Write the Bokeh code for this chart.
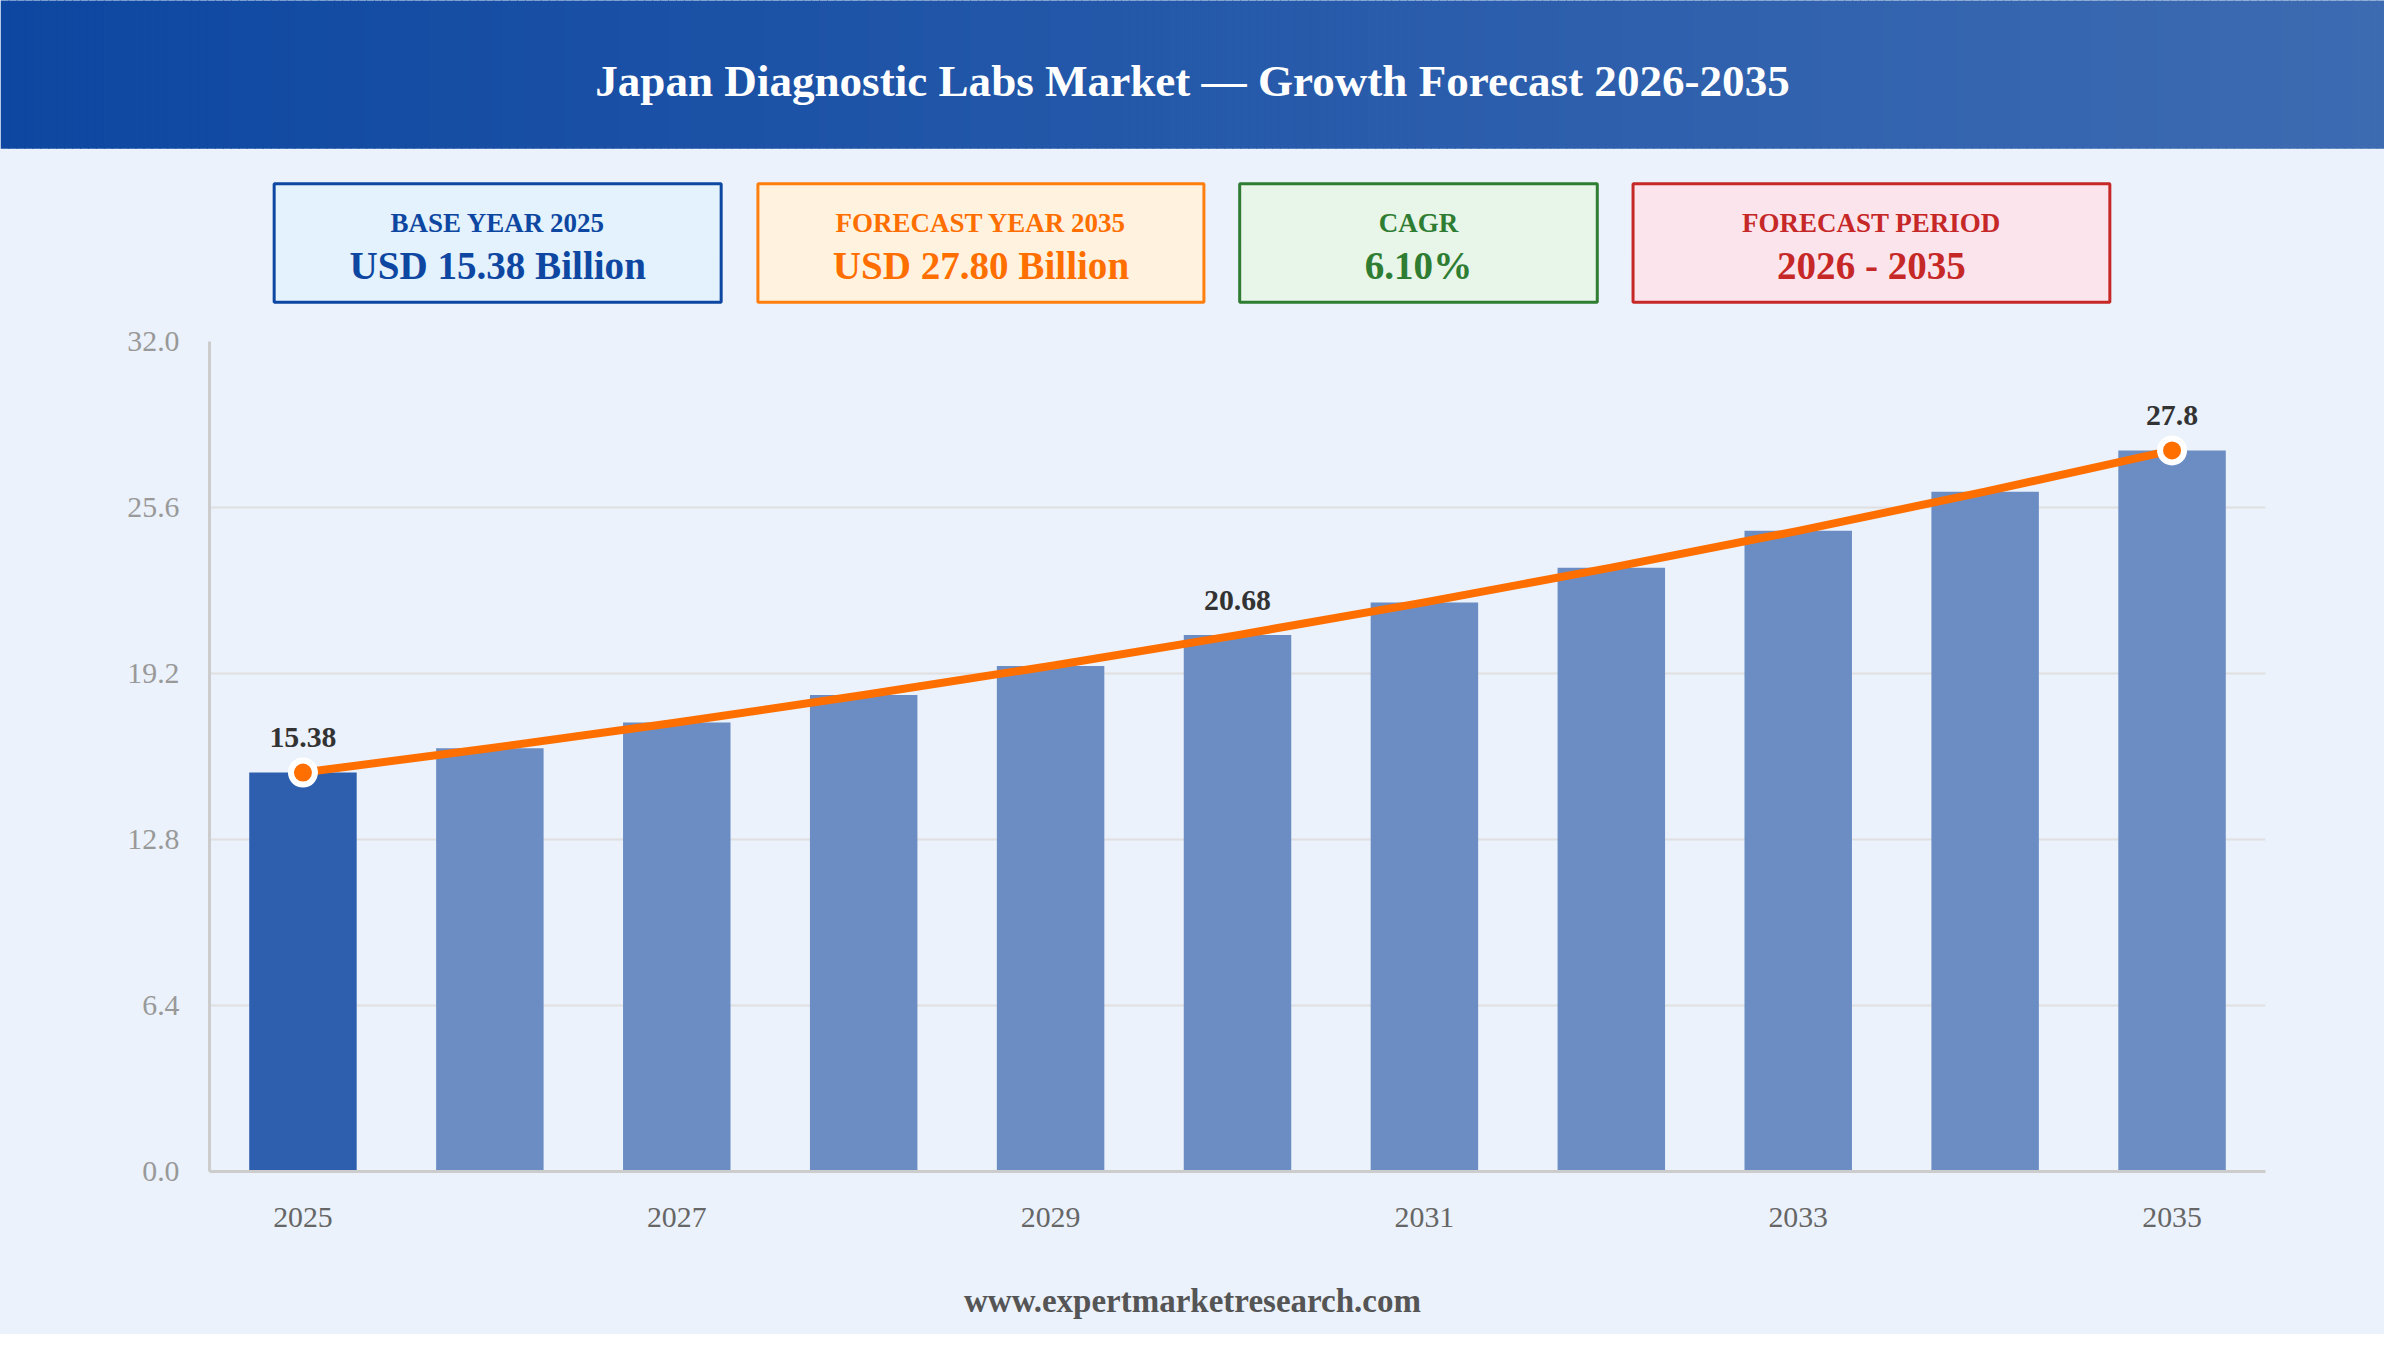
from bokeh.embed import file_html
from bokeh.resources import INLINE
from bokeh.plotting import figure
from bokeh.layouts import column
from bokeh.models import Range1d, FixedTicker, ColumnDataSource, NumeralTickFormatter

# ---- data ----
years = [2025, 2026, 2027, 2028, 2029, 2030, 2031, 2032, 2033, 2034, 2035]
market_values = [15.38, 16.32, 17.31, 18.37, 19.49, 20.68, 21.94, 23.28, 24.70, 26.21, 27.80]
labelled_years = [2025, 2030, 2035]
labelled_values = [15.38, 20.68, 27.80]
labelled_texts = ["15.38", "20.68", "27.8"]
marker_years = [2025, 2035]
marker_values = [15.38, 27.80]
x_tick_years = [2025, 2027, 2029, 2031, 2033, 2035]
y_ticks = [0, 6.4, 12.8, 19.2, 25.6, 32]
title_text = "Japan Diagnostic Labs Market \u2014 Growth Forecast 2026-2035"
footer_text = "www.expertmarketresearch.com"
card_titles = ["BASE YEAR 2025", "FORECAST YEAR 2035", "CAGR", "FORECAST PERIOD"]
card_values = ["USD 15.38 Billion", "USD 27.80 Billion", "6.10%", "2026 - 2035"]

# ---- style / layout ----
W, H = 2384, 1334
SX, SY = W / 2400, H / 1350
BG = "#EBF2FB"
FONT = "Liberation Serif"
card_spans = [(274, 727), (761, 1213), (1246, 1609), (1642, 2125)]
card_fills = ["#E3F2FD", "#FFF3E0", "#E8F5E9", "#FCE4EC"]
card_lines = ["#0D47A1", "#FF7F0E", "#2E7D32", "#C62828"]
card_texts = ["#0D47A1", "#FF6F00", "#2E7D32", "#C62828"]
HEAD_END, CHART_END = 325, 1260
H1 = round(HEAD_END * SY)
H2 = round(CHART_END * SY) - H1
H3 = H - H1 - H2


def px(v):
    return f"{v * SX:.1f}px"


def sheet(height, y0, y1):
    f = figure(width=W, height=height, output_backend="svg", toolbar_location=None,
               x_range=Range1d(0, 2400), y_range=Range1d(y1, y0),
               min_border=0, x_axis_type=None, y_axis_type=None, frame_align=False,
               styles={"background-color": BG})
    f.background_fill_color = BG
    f.border_fill_color = BG
    f.outline_line_color = None
    f.grid.visible = False
    return f


def put_text(f, x, y, text, size, color):
    f.text([x], [y], text=[text], text_font=FONT, text_font_style="bold", text_font_size=px(size),
           text_color=color, text_align="center", text_baseline="alphabetic")


# header + cards
head = sheet(H1, 0, HEAD_END)
c0, c1 = (13, 71, 161), (61, 107, 178)
step = 8
lefts = list(range(0, 2400, step))
cols = ["#%02X%02X%02X" % tuple(round(a + (b - a) * (i + step / 2) / 2400) for a, b in zip(c0, c1)) for i in lefts]
head.quad(left=lefts, right=[i + step + 1 for i in lefts], top=-2, bottom=150, fill_color=cols, line_color=None)
put_text(head, 1200, 81, title_text, 45.4, "#FFFFFF")
for (l, r), f, lc, tc, t, v in zip(card_spans, card_fills, card_lines, card_texts, card_titles, card_values):
    head.quad(left=l + 1.5, right=r - 1.5, top=185.5, bottom=305.5, fill_color=f, line_color=lc, line_width=3)
    put_text(head, (l + r) / 2, 225, t, 27.2, tc)
    put_text(head, (l + r) / 2, 268, v, 39.4, tc)

# chart
p = figure(width=W, height=H2, output_backend="svg", toolbar_location=None,
           x_range=Range1d(2024.5, 2035.5), y_range=Range1d(0, 32), frame_align=False,
           min_border_left=round(210 * SX), min_border_right=W - round(2280 * SX),
           min_border_top=round(345 * SY) - H1, min_border_bottom=H1 + H2 - round(1185 * SY),
           styles={"background-color": BG})
p.background_fill_color = BG
p.border_fill_color = BG
p.outline_line_color = None
p.xgrid.visible = False
p.ygrid.ticker = FixedTicker(ticks=y_ticks)
p.ygrid.grid_line_color = "#E0E0E0"
p.ygrid.grid_line_width = 2
for ax in (p.xaxis[0], p.yaxis[0]):
    ax.axis_line_color = "#CCCCCC"
    ax.axis_line_width = 3
    ax.major_tick_line_color = None
    ax.minor_tick_line_color = None
    ax.major_label_text_font = FONT
    ax.major_label_text_font_size = px(30)
p.xaxis[0].ticker = FixedTicker(ticks=x_tick_years)
p.xaxis[0].major_label_text_color = "#666666"
p.xaxis[0].major_label_standoff = 30
p.yaxis[0].ticker = FixedTicker(ticks=y_ticks)
p.yaxis[0].formatter = NumeralTickFormatter(format="0.0")
p.yaxis[0].major_label_text_color = "#999999"
p.yaxis[0].major_label_standoff = 24

bar_colors = ["#2E5FAE"] + ["#6B8DC4"] * (len(years) - 1)
src = ColumnDataSource(dict(x=years, top=market_values, color=bar_colors))
p.vbar(x="x", top="top", bottom=0, width=0.575, source=src, fill_color="color", line_color=None)
p.line(years, market_values, line_color="#FF6F00", line_width=8, line_join="round")
p.scatter(marker_years, marker_values, size=24, fill_color="#FF6F00", line_color="white", line_width=6)
p.text(labelled_years, labelled_values, text=labelled_texts, text_font=FONT, text_font_style="bold",
       text_font_size=px(30), text_color="#333333", text_align="center", text_baseline="alphabetic",
       y_offset=-35)

# footer
foot = sheet(H3, CHART_END, 1350)
put_text(foot, 1200, 1316, footer_text, 33.2, "#555555")

page = column(head, p, foot, spacing=0, styles={"background-color": BG})
open("out.html", "w").write(file_html(page, INLINE))
